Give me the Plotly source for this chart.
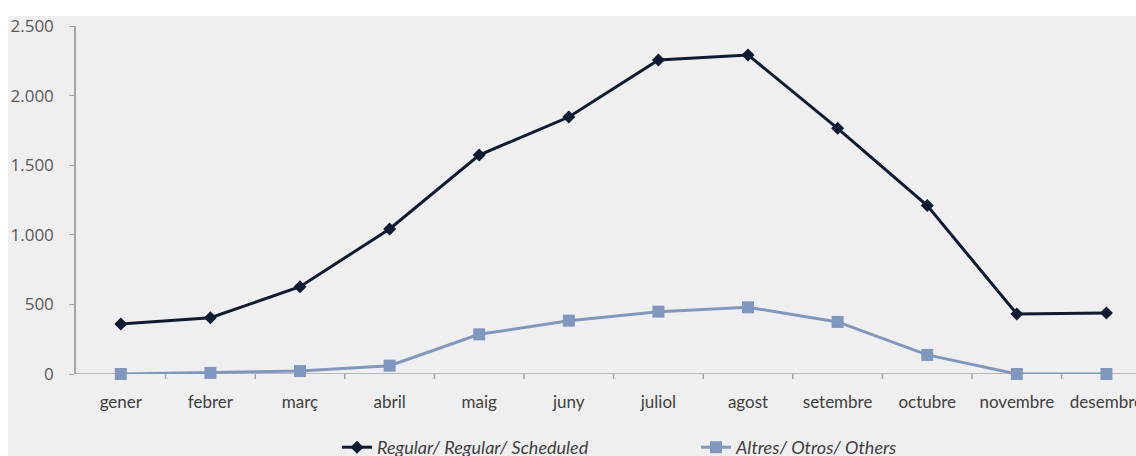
import plotly.graph_objects as go

months = ["gener", "febrer", "març", "abril", "maig", "juny", "juliol",
          "agost", "setembre", "octubre", "novembre", "desembre"]
regular = [359, 404, 627, 1042, 1573, 1846, 2256, 2292, 1765, 1210, 431, 438]
others = [0, 8, 21, 60, 285, 383, 448, 479, 374, 137, 0, 0]
y_ticks = [0, 500, 1000, 1500, 2000, 2500]

x_idx = list(range(len(months)))

fig = go.Figure()
fig.add_trace(go.Scatter(
    x=x_idx, y=regular, mode="lines+markers", name="Regular/ Regular/ Scheduled",
    line=dict(color="#0f1a33", width=3), cliponaxis=False,
    marker=dict(symbol="diamond", size=10, color="#0f1a33"),
))
fig.add_trace(go.Scatter(
    x=x_idx, y=others, mode="lines+markers", name="Altres/ Otros/ Others",
    line=dict(color="#8098c0", width=3), cliponaxis=False,
    marker=dict(symbol="square", size=12, color="#8098c0"),
))

W, H = 1136, 456
L, T, B = 76, 26, 82
fig.update_layout(
    width=W, height=H,
    margin=dict(l=L, r=0, t=T, b=B, autoexpand=False),
    paper_bgcolor="#efefef", plot_bgcolor="#efefef",
    separators=",.",
    showlegend=True,
    legend=dict(orientation="h", xref="container", x=337 / W, xanchor="left",
                yref="container", y=(H - 429) / H, yanchor="top", entrywidth=314,
                font=dict(family="Lato", size=18, color="#404040", style="italic"),
                bgcolor="rgba(0,0,0,0)", itemclick=False),
    xaxis=dict(
        range=[-0.5, 11.33], tickmode="array", tickvals=x_idx, ticktext=months,
        showgrid=False, zeroline=False, showline=False,
        ticks="", tickfont=dict(family="Lato", size=17, color="#404040"),
        ticklabelstandoff=16, ticklabeloverflow="allow",
    ),
    yaxis=dict(
        range=[0, 2500], tickmode="array", tickvals=y_ticks, tickformat=",d",
        showgrid=False, zeroline=False, showline=True, linecolor="#a6a6a6", linewidth=1.5,
        ticks="outside", ticklen=5, tickcolor="#a6a6a6",
        tickfont=dict(family="Open Sans", size=17, color="#595959"),
        ticklabelstandoff=12,
    ),
    shapes=[
        # x axis line at y=0
        dict(type="line", xref="paper", yref="y", x0=0, x1=1.05, y0=0, y1=0,
             line=dict(color="#a6a6a6", width=1.5), layer="below"),
        # white strips at top and left
        dict(type="rect", xref="paper", yref="paper", x0=-L / (W - L), x1=1.1,
             y0=1 + (T - 16) / (H - T - B), y1=1.2, fillcolor="white",
             line=dict(width=0), layer="below"),
        dict(type="rect", xref="paper", yref="paper", x0=-L / (W - L),
             x1=-(L - 8) / (W - L), y0=-0.5, y1=1.2, fillcolor="white",
             line=dict(width=0), layer="below"),
    ],
)
# category boundary tick marks on the x axis
for k in range(len(months)):
    fig.add_shape(type="line", xref="x", yref="paper", x0=k + 0.5, x1=k + 0.5,
                  y0=0, y1=-5 / (H - T - B), line=dict(color="#a6a6a6", width=1.5))

fig.write_html("out.html")
